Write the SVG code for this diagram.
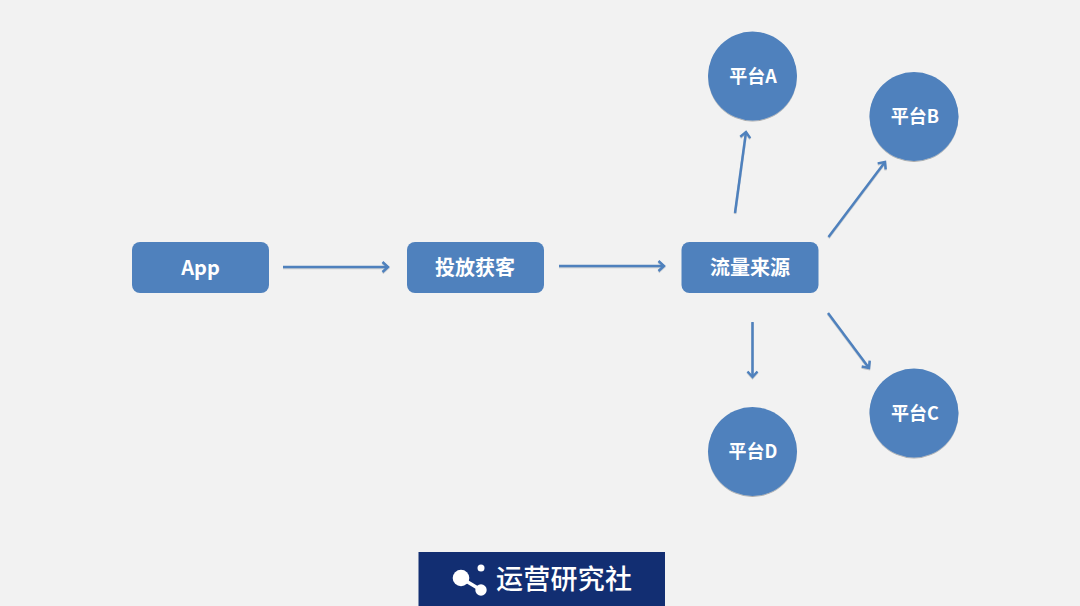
<svg xmlns="http://www.w3.org/2000/svg" width="1080" height="606" viewBox="0 0 1080 606">
<style>
.node{fill:#4f81bd}
.circ{filter:url(#sh)}
.lbl{fill:#fff;font-family:"Noto Sans CJK SC","Noto Sans",sans-serif;font-weight:700;text-anchor:middle}
.big{font-size:20px}
.small{font-size:18px}
.conn{stroke:#4f81bd;stroke-width:2.5;fill:none;marker-end:url(#arrow);filter:url(#sl)}
</style>
<defs>
<filter id="sh" x="-10%" y="-10%" width="120%" height="125%"><feDropShadow dx="0" dy="1" stdDeviation="0.7" flood-color="#000" flood-opacity="0.3"/></filter>
<filter id="sl" filterUnits="userSpaceOnUse" x="0" y="0" width="1080" height="606"><feDropShadow dx="0" dy="1" stdDeviation="0.6" flood-color="#000" flood-opacity="0.2"/></filter>
<marker id="arrow" markerUnits="userSpaceOnUse" markerWidth="14" markerHeight="14" refX="9" refY="6" orient="auto"><path d="M3.5 1 L9 6 L3.5 11" fill="none" stroke="#4f81bd" stroke-width="2.5"/></marker>
</defs>
<rect width="1080" height="606" fill="#f2f2f2"/>
<g id="connectors">
<line class="conn" x1="283" y1="267" x2="388" y2="267"/>
<line class="conn" x1="559" y1="266" x2="664" y2="266"/>
<line class="conn" x1="735" y1="213" x2="746" y2="132"/>
<line class="conn" x1="828.5" y1="237" x2="885" y2="162"/>
<line class="conn" x1="828" y1="313" x2="869" y2="368"/>
<line class="conn" x1="752.5" y1="322" x2="752.5" y2="377"/>
</g>
<g id="node-app"><rect class="node" x="132" y="242" width="137" height="51" rx="8"/><text class="lbl big" x="200.5" y="274.5">App</text></g>
<g id="node-toufang"><rect class="node" x="407" y="242" width="137" height="51" rx="8"/><text class="lbl big" x="475" y="274.5">投放获客</text></g>
<g id="node-liuliang"><rect class="node" x="681.5" y="242" width="137" height="51" rx="8"/><text class="lbl big" x="750" y="274.5">流量来源</text></g>
<g id="node-a"><circle class="node circ" cx="752.5" cy="76" r="44.5"/><text class="lbl small" x="753" y="82.5">平台A</text></g>
<g id="node-b"><circle class="node circ" cx="914" cy="116.5" r="44.5"/><text class="lbl small" x="915" y="123">平台B</text></g>
<g id="node-c"><circle class="node circ" cx="914" cy="413" r="44.5"/><text class="lbl small" x="915" y="419.5">平台C</text></g>
<g id="node-d"><circle class="node circ" cx="752.5" cy="451.5" r="44.5"/><text class="lbl small" x="753" y="458">平台D</text></g>
<g id="logo">
<rect x="418.5" y="552" width="246.5" height="54" fill="#122e72"/>
<path d="M461 578 L481 590" stroke="#fff" stroke-width="3.5" fill="none"/>
<circle cx="461" cy="578" r="8.3" fill="#fff"/>
<circle cx="481" cy="568" r="3.5" fill="#fff"/>
<circle cx="481" cy="590" r="5.7" fill="#fff"/>
<text x="564" y="589" font-family="Noto Sans CJK SC,sans-serif" font-weight="500" font-size="27" fill="#fff" text-anchor="middle" textLength="136">运营研究社</text>
</g>
</svg>
